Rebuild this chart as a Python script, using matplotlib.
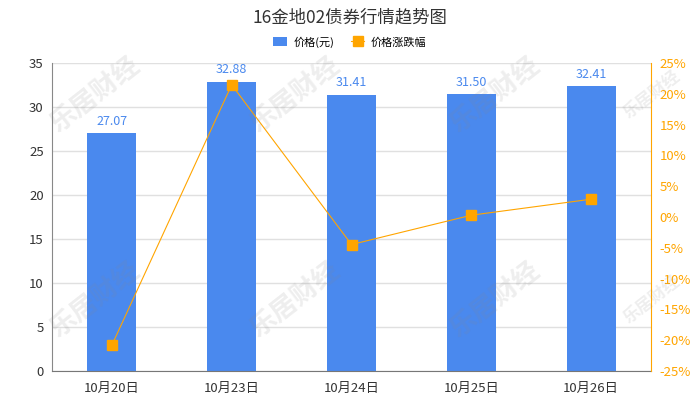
import matplotlib.pyplot as plt
import numpy as np

plt.rcParams['font.family'] = ['Noto Sans CJK SC', 'DejaVu Sans']

dates = ['10月20日', '10月23日', '10月24日', '10月25日', '10月26日']
prices = [27.07, 32.88, 31.41, 31.50, 32.41]
changes = [-20.8, 21.46, -4.47, 0.29, 2.89]

BLUE = '#4a89ee'
ORANGE = '#ffa500'

fig = plt.figure(figsize=(7, 4), dpi=100)
ax = fig.add_axes([52 / 700, 1 - 371 / 400, 599 / 700, 308 / 400])

x = np.arange(len(dates))
bars = ax.bar(x, prices, width=0.41, color=BLUE, zorder=2, label='价格(元)')
for b, v in zip(bars, prices):
    ax.text(b.get_x() + b.get_width() / 2, v + 0.6, f'{v:.2f}', ha='center', va='bottom',
            fontsize=9, color=BLUE)

ax.set_xlim(-0.5, len(dates) - 0.5)
ax.set_ylim(0, 35)
ax.set_yticks(range(0, 36, 5))
ax.set_xticks(x)
ax.set_xticklabels(dates)
ax.grid(True, axis='y', color='#e0e0e0', linewidth=1, zorder=0)
ax.set_axisbelow(True)
ax.tick_params(axis='both', length=0, labelsize=9.5, labelcolor='#333333', pad=6)
ax.tick_params(axis='x', pad=8)
for s in ['top', 'right']:
    ax.spines[s].set_visible(False)
ax.spines['left'].set_color('#888888')
ax.spines['bottom'].set_color('#777777')

ax2 = ax.twinx()
ax2.plot(x, changes, color=ORANGE, linewidth=0.8, marker='s', markersize=6.5,
         label='价格涨跌幅', zorder=3)
ax2.set_ylim(-25, 25)
ax2.set_yticks(range(-25, 26, 5))
ax2.set_yticklabels([f'{t}%' for t in range(-25, 26, 5)])
ax2.tick_params(axis='y', length=0, labelsize=9.5, labelcolor=ORANGE, pad=6)
for s in ['top', 'left', 'bottom']:
    ax2.spines[s].set_visible(False)
ax2.spines['right'].set_color(ORANGE)

# watermark, drawn faintly over the plot
for wx in [95, 295, 495, 652]:
    for wy in [95, 300]:
        fig.text(wx / 700, 1 - wy / 400, '乐居财经', fontsize=19 if wx < 600 else 12,
                 fontweight='bold', color='#888888', alpha=0.14, rotation=38,
                 ha='center', va='center', zorder=10)

fig.suptitle('16金地02债券行情趋势图', y=1 - 17 / 400, va='center', fontsize=12.5, color='#333333')

h1, l1 = ax.get_legend_handles_labels()
h2, l2 = ax2.get_legend_handles_labels()
fig.legend(h1 + h2, l1 + l2, loc='center', bbox_to_anchor=(0.5, 1 - 42 / 400), ncol=2,
           frameon=False, fontsize=8, handlelength=1.2, handleheight=0.8,
           columnspacing=1.5, handletextpad=0.6)

fig.savefig('out.png', dpi=100)
